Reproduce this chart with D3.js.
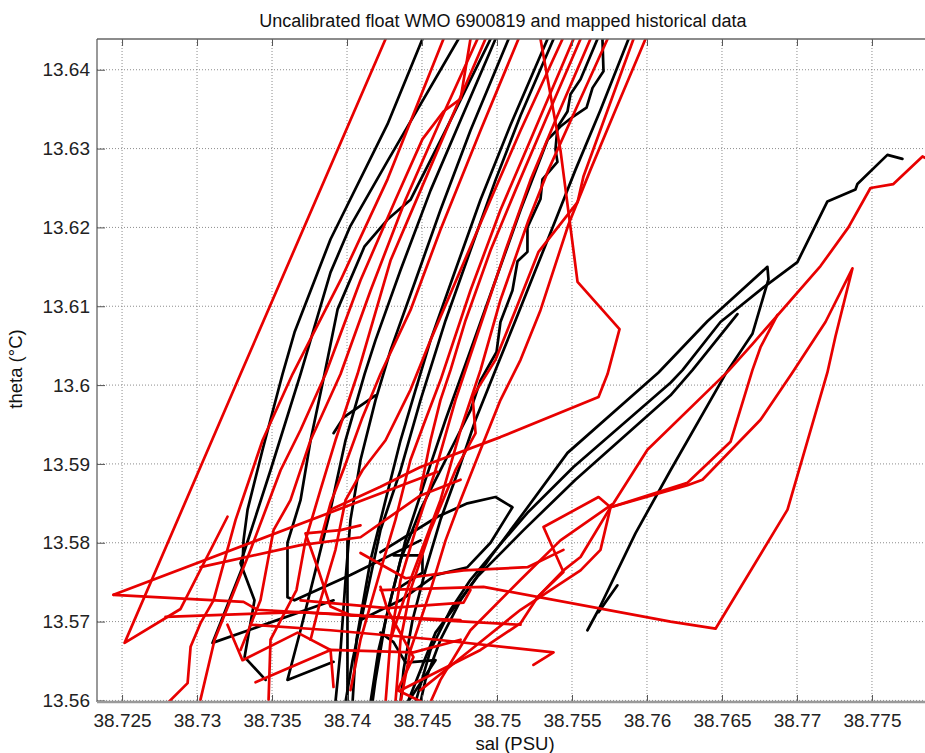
<!DOCTYPE html>
<html><head><meta charset="utf-8">
<script src="https://cdn.jsdelivr.net/npm/d3@7"></script>
<style>body{margin:0;background:#fff}</style>
</head><body>
<svg id="c" width="925" height="753"></svg>
<script>
const titleText = "Uncalibrated float WMO 6900819 and mapped historical data";
const xLabel = "sal (PSU)";
const yLabel = "theta (°C)";
const xTicks = [38.725,38.73,38.735,38.74,38.745,38.75,38.755,38.76,38.765,38.77,38.775];
const yTicks = [13.56,13.57,13.58,13.59,13.6,13.61,13.62,13.63,13.64];
const xDomain = [38.72333, 38.77907];
const yDomain = [13.5598, 13.6439];

// float profiles (black)
const f1 = [[38.74503,13.6439],[38.7427,13.6331],[38.7389,13.6185],[38.7365,13.6067],[38.7357,13.6014],[38.73437,13.5918],[38.73337,13.5842],[38.7331,13.5803],[38.73303,13.5769],[38.73103,13.5673],[38.7391,13.5727]];
const f2 = [[38.74743,13.6439],[38.7427,13.6284],[38.74023,13.6202],[38.7389,13.6143],[38.7369,13.6014],[38.7349,13.5892],[38.7329,13.5774],[38.73383,13.5727],[38.73317,13.5655],[38.73457,13.5626]];
const f3 = [[38.74957,13.6439],[38.74657,13.6323],[38.74423,13.6235],[38.7427,13.621],[38.74117,13.6176],[38.73937,13.6096],[38.7385,13.6014],[38.73757,13.593],[38.7369,13.5854],[38.73603,13.58],[38.73603,13.5731],[38.7365,13.5727],[38.74023,13.5759],[38.7449,13.5803]];
const f4 = [[38.7499,13.6439],[38.74757,13.6336],[38.74557,13.6247],[38.74357,13.6146],[38.7419,13.6057],[38.74117,13.6014],[38.7399,13.593],[38.7389,13.5842],[38.7379,13.5765],[38.7369,13.5689],[38.73603,13.5626],[38.7391,13.5649]];
const f5 = [[38.75077,13.6439],[38.74823,13.6323],[38.74623,13.6222],[38.74457,13.6133],[38.7429,13.6044],[38.7419,13.5981],[38.7409,13.5905],[38.74023,13.5829],[38.7399,13.5753],[38.73957,13.5664],[38.73923,13.5598]];
const f6 = [[38.75337,13.6439],[38.7509,13.633],[38.7489,13.6235],[38.74723,13.6146],[38.74557,13.6057],[38.74457,13.5994],[38.74357,13.593],[38.74257,13.5854],[38.74157,13.5778],[38.74063,13.5677],[38.74037,13.5598]];
const f7 = [[38.75377,13.6439],[38.75157,13.6342],[38.7499,13.626],[38.74823,13.6171],[38.74657,13.6082],[38.7449,13.5981],[38.74357,13.5892],[38.74223,13.5816],[38.74123,13.5727],[38.74037,13.5651],[38.7399,13.5598]];
const f8 = [[38.7567,13.6439],[38.75557,13.6388],[38.7549,13.6369],[38.7547,13.6347],[38.75403,13.6327],[38.7539,13.6299],[38.75403,13.6283],[38.75303,13.6261],[38.7529,13.6236],[38.75203,13.62],[38.75203,13.6169],[38.75137,13.6157],[38.75103,13.612],[38.75023,13.608],[38.74997,13.6042],[38.7489,13.6006],[38.74823,13.5968],[38.74723,13.593],[38.74623,13.5892],[38.7449,13.5842],[38.74357,13.5778],[38.74257,13.5702],[38.7419,13.5626],[38.7417,13.5598]];
const f9 = [[38.75703,13.6439],[38.7571,13.6398],[38.75637,13.6377],[38.75597,13.6352],[38.75503,13.634],[38.75423,13.6328],[38.75337,13.6311],[38.75157,13.6222],[38.7499,13.6133],[38.74823,13.6044],[38.74657,13.5956],[38.74523,13.588],[38.7439,13.5803],[38.7429,13.5727],[38.7421,13.5664],[38.74157,13.5598]];
const f10 = [[38.75877,13.6439],[38.7569,13.6349],[38.75523,13.6273],[38.7539,13.6209],[38.75257,13.6146],[38.75123,13.6082],[38.7499,13.6019],[38.74857,13.5956],[38.74743,13.5892],[38.74623,13.5829],[38.74523,13.5765],[38.74437,13.5702],[38.74377,13.5639],[38.74357,13.5598]];
const f11 = [[38.75603,13.5689],[38.75677,13.5715],[38.75923,13.5812],[38.76157,13.5892],[38.76523,13.6014],[38.76703,13.6065],[38.7681,13.6134],[38.76803,13.615],[38.76403,13.6081],[38.76077,13.6016],[38.7547,13.5914],[38.75177,13.5838],[38.74957,13.5782],[38.74757,13.5727],[38.74623,13.5677],[38.74523,13.5626],[38.7449,13.5598]];
const f12 = [[38.77703,13.6287],[38.77603,13.6292],[38.77403,13.6255],[38.7739,13.6248],[38.77203,13.6233],[38.77003,13.6156],[38.76777,13.6124],[38.7649,13.608],[38.76237,13.6019],[38.76157,13.6003],[38.7551,13.5896],[38.75203,13.5838],[38.7499,13.5791],[38.74823,13.5753],[38.7469,13.5715],[38.74557,13.5664],[38.74457,13.5598]];
const f13 = [[38.76603,13.609],[38.76303,13.6019],[38.76157,13.5987],[38.75523,13.588],[38.75177,13.5816],[38.7487,13.5757],[38.7459,13.5686],[38.74403,13.5597]];
const f14 = [[38.75803,13.5746],[38.75677,13.5712]];
const f15 = [[38.7409,13.5702],[38.74357,13.5727],[38.7459,13.5759],[38.74803,13.5769],[38.74957,13.58],[38.75103,13.5845],[38.7499,13.5858],[38.74803,13.585],[38.74603,13.5833],[38.74223,13.5788]];
const f16 = [[38.74223,13.5686],[38.7431,13.5674],[38.7439,13.5648],[38.7459,13.5651],[38.74403,13.5597]];
const f17 = [[38.7431,13.5784],[38.74503,13.5784],[38.74503,13.5762],[38.74323,13.574]];
const f18 = [[38.74003,13.5803],[38.74003,13.5598]];
const f19 = [[38.7391,13.5939],[38.73977,13.5959],[38.7419,13.5987]];
const floatProfiles = [f1,f2,f3,f4,f5,f6,f7,f8,f9,f10,f11,f12,f13,f14,f15,f16,f17,f18,f19];

// mapped historical profiles (red)
const h1 = [[38.74257,13.6439],[38.7329,13.6014],[38.72517,13.5673],[38.7289,13.5716],[38.73203,13.5833]];
const h2 = [[38.72443,13.5734],[38.74603,13.589]];
const h3 = [[38.72443,13.5734],[38.7331,13.5725],[38.73403,13.5715],[38.74223,13.5706],[38.75157,13.5696]];
const h4 = [[38.73357,13.5696],[38.7389,13.5689],[38.74603,13.5677],[38.75377,13.5661],[38.75243,13.5645]];
const h5 = [[38.74223,13.574],[38.7491,13.5744],[38.76157,13.57],[38.76457,13.5691],[38.76937,13.5842],[38.77203,13.6016],[38.77257,13.6062],[38.7737,13.6148],[38.7719,13.608],[38.7697,13.6016],[38.76757,13.5956],[38.7637,13.588],[38.7627,13.5873],[38.75757,13.5845],[38.75677,13.5858],[38.7531,13.582],[38.75443,13.5763],[38.7527,13.5731]];
const h6 = [[38.7687,13.6089],[38.76757,13.6048],[38.76703,13.6019],[38.76557,13.5928],[38.7627,13.5876],[38.75757,13.5845],[38.7569,13.5791],[38.75557,13.5765],[38.75157,13.5715],[38.74823,13.5664],[38.7449,13.5613]];
const h7 = [[38.7789,13.6285],[38.77837,13.629],[38.77643,13.6255],[38.7749,13.625],[38.77343,13.62],[38.77157,13.6151],[38.76703,13.6052],[38.76543,13.6018],[38.76003,13.5918],[38.75777,13.585],[38.75423,13.5803],[38.75157,13.5753],[38.74823,13.5689],[38.74623,13.5626],[38.74557,13.5598]];
const h8 = [[38.7529,13.6439],[38.75423,13.6298],[38.75537,13.6131],[38.75817,13.6071],[38.75737,13.6014],[38.75677,13.5985],[38.75023,13.5934],[38.7449,13.5896],[38.74223,13.5871],[38.7389,13.5842]];
const h9 = [[38.74643,13.6439],[38.7427,13.6261],[38.73957,13.6133],[38.73637,13.6014],[38.73437,13.593],[38.73257,13.5829],[38.7311,13.5727],[38.73023,13.5698],[38.72957,13.5668],[38.72937,13.5622],[38.7279,13.5594]];
const h10 = [[38.74823,13.6439],[38.74757,13.6363],[38.74643,13.6347],[38.74503,13.6312],[38.74323,13.6235],[38.7409,13.6133],[38.73857,13.6014],[38.7369,13.5943],[38.73557,13.5892],[38.73357,13.5791],[38.73223,13.5727],[38.73117,13.5677],[38.73023,13.5601]];
const h11 = [[38.7487,13.6439],[38.74623,13.6336],[38.7439,13.6235],[38.74157,13.612],[38.73957,13.6014],[38.73757,13.593],[38.73623,13.5854],[38.7351,13.5816],[38.73423,13.5727],[38.7329,13.5664]];
const h12 = [[38.74923,13.6439],[38.7469,13.6336],[38.7449,13.6247],[38.7429,13.6158],[38.7407,13.6014],[38.73923,13.593],[38.73823,13.5867],[38.73723,13.5803],[38.73663,13.574],[38.7349,13.5677],[38.73477,13.5601]];
const h13 = [[38.75143,13.6439],[38.7489,13.6323],[38.74623,13.6197],[38.74423,13.6095],[38.74223,13.6014],[38.74103,13.5959],[38.73983,13.5896],[38.7389,13.585],[38.73823,13.5803]];
const h14 = [[38.75437,13.6439],[38.75157,13.6323],[38.74957,13.6235],[38.74757,13.6146],[38.74557,13.6057],[38.74423,13.5994],[38.74257,13.593],[38.74103,13.5892],[38.7399,13.5854],[38.73923,13.5791],[38.73823,13.5727],[38.73757,13.5677]];
const h15 = [[38.7551,13.6439],[38.75223,13.6311],[38.75023,13.6222],[38.74823,13.612],[38.74623,13.6006],[38.74523,13.5956],[38.74423,13.5905],[38.74323,13.5829],[38.74223,13.5765],[38.7409,13.5677],[38.74023,13.5613]];
const h16 = [[38.75557,13.6439],[38.75323,13.6336],[38.75123,13.6247],[38.74957,13.6171],[38.7479,13.6082],[38.7469,13.6019],[38.74623,13.5981],[38.74557,13.593],[38.7449,13.5867]];
const h17 = [[38.75623,13.6439],[38.7539,13.6336],[38.75223,13.626],[38.75057,13.6171],[38.74857,13.6057],[38.74723,13.5981],[38.7459,13.5892],[38.74457,13.5816],[38.74357,13.5753],[38.7429,13.5677],[38.74257,13.5598]];
const h18 = [[38.75737,13.6439],[38.75523,13.6349],[38.75343,13.6273],[38.7521,13.6209],[38.75023,13.6108],[38.7489,13.6019],[38.74757,13.5943],[38.74623,13.5854],[38.74423,13.5753],[38.7429,13.5677]];
const h19 = [[38.7591,13.6439],[38.75577,13.6265],[38.75537,13.6232],[38.75277,13.6169],[38.75123,13.6095],[38.7499,13.6032],[38.74837,13.5985],[38.74857,13.5939],[38.74723,13.5892],[38.74557,13.5816],[38.74423,13.574],[38.74357,13.5677],[38.74323,13.5598]];
const h20 = [[38.7599,13.6439],[38.7579,13.6349],[38.75623,13.6273],[38.75477,13.6204],[38.7529,13.6095],[38.75157,13.6032],[38.75023,13.5981],[38.7489,13.5918],[38.74757,13.5854],[38.74657,13.5803],[38.74557,13.574],[38.74423,13.5664],[38.74357,13.5598]];
const h21 = [[38.7409,13.5822],[38.73957,13.5816],[38.73723,13.5812],[38.73803,13.5769],[38.7389,13.5719],[38.74023,13.5708],[38.74757,13.5702]];
const h22 = [[38.73203,13.5696],[38.73303,13.5651],[38.7367,13.5686],[38.7389,13.5664],[38.7391,13.5617]];
const h23 = [[38.73023,13.5769],[38.7369,13.5797],[38.7409,13.5807],[38.7449,13.586],[38.74757,13.588]];
const h24 = [[38.7409,13.5787],[38.7439,13.5755],[38.74777,13.5765],[38.75203,13.5769],[38.75443,13.5791]];
const h25 = [[38.7369,13.5727],[38.7427,13.5717],[38.74777,13.5724],[38.74823,13.574]];
const h26 = [[38.74357,13.5613],[38.7489,13.5664],[38.75157,13.5698],[38.7527,13.5731],[38.75443,13.5765],[38.75557,13.5782],[38.75757,13.5845]];
const h27 = [[38.7279,13.5706],[38.7369,13.5712],[38.7409,13.5708]];
const h28 = [[38.7339,13.5623],[38.7389,13.5664],[38.74443,13.5661],[38.74757,13.5677]];
const h29 = [[38.74223,13.5744],[38.7427,13.5715],[38.74443,13.5655],[38.74337,13.5613],[38.7451,13.5597]];
const histProfiles = [h1,h2,h3,h4,h5,h6,h7,h8,h9,h10,h11,h12,h13,h14,h15,h16,h17,h18,h19,h20,h21,h22,h23,h24,h25,h26,h27,h28,h29];

const W = 925, H = 753;
const m = {l: 97, t: 39, r: 933, b: 702};
const x = d3.scaleLinear().domain(xDomain).range([m.l, m.r]);
const y = d3.scaleLinear().domain(yDomain).range([m.b, m.t]);
const svg = d3.select('#c');
const font = "'Liberation Sans', Arial, Helvetica, sans-serif";
svg.append('rect').attr('width', W).attr('height', H).attr('fill', '#fff');
svg.append('defs').append('clipPath').attr('id', 'clip')
  .append('rect').attr('x', m.l).attr('y', m.t).attr('width', m.r - m.l).attr('height', m.b - m.t);

// grid
const grid = svg.append('g').attr('stroke', '#8c8c8c').attr('stroke-width', 1).attr('stroke-dasharray', '1,2');
grid.selectAll('.gx').data(xTicks).join('line').attr('class', 'gx')
  .attr('x1', d => x(d)).attr('x2', d => x(d)).attr('y1', m.t).attr('y2', m.b);
grid.selectAll('.gy').data(yTicks).join('line').attr('class', 'gy')
  .attr('x1', m.l).attr('x2', m.r).attr('y1', d => y(d)).attr('y2', d => y(d));

// profiles
const line = d3.line().x(d => x(d[0])).y(d => y(d[1]));
const lg = svg.append('g').attr('clip-path', 'url(#clip)').attr('fill', 'none')
  .attr('stroke-width', 2.7).attr('stroke-linejoin', 'round').attr('stroke-linecap', 'round');
lg.selectAll('.fp').data(floatProfiles).join('path').attr('class', 'fp').attr('d', line).attr('stroke', '#000');
lg.selectAll('.hp').data(histProfiles).join('path').attr('class', 'hp').attr('d', line).attr('stroke', '#e80000');

// axes
const fmtX = d => String(+d.toFixed(3));
const fmtY = d => String(+d.toFixed(2));
const gx = svg.append('g').attr('transform', `translate(0,${m.b})`)
  .call(d3.axisBottom(x).tickValues(xTicks).tickFormat(fmtX).tickSize(-7).tickSizeOuter(0).tickPadding(11.5));
const gxt = svg.append('g').attr('transform', `translate(0,${m.t})`)
  .call(d3.axisTop(x).tickValues(xTicks).tickFormat('').tickSize(-7).tickSizeOuter(0));
const gy = svg.append('g').attr('transform', `translate(${m.l},0)`)
  .call(d3.axisLeft(y).tickValues(yTicks).tickFormat(fmtY).tickSize(-8).tickSizeOuter(0).tickPadding(7));
[gx, gxt, gy].forEach(g => {
  g.select('.domain').remove();
  g.selectAll('.tick line').attr('stroke', '#555');
  g.selectAll('.tick text').attr('fill', '#222').style('font-family', font).style('font-size', '19px');
});
// box
svg.append('line').attr('x1', m.l).attr('x2', m.r).attr('y1', m.t).attr('y2', m.t).attr('stroke', '#666').attr('stroke-width', 1.3);
svg.append('line').attr('x1', m.l).attr('x2', m.l).attr('y1', m.t).attr('y2', m.b).attr('stroke', '#555').attr('stroke-width', 1.2);
svg.append('line').attr('x1', m.l).attr('x2', m.r).attr('y1', m.b).attr('y2', m.b).attr('stroke', '#9a9a9a').attr('stroke-width', 2.4);

// title and labels
svg.append('text').attr('x', 503).attr('y', 26.5).attr('text-anchor', 'middle')
  .style('font-family', font).style('font-size', '18px').attr('fill', '#111').text(titleText);
svg.append('text').attr('x', 515).attr('y', 750).attr('text-anchor', 'middle')
  .style('font-family', font).style('font-size', '18.5px').attr('fill', '#111').text(xLabel);
svg.append('text').attr('transform', 'translate(22,369) rotate(-90)').attr('text-anchor', 'middle')
  .style('font-family', font).style('font-size', '18.5px').attr('fill', '#111').text(yLabel);
</script>
</body></html>
